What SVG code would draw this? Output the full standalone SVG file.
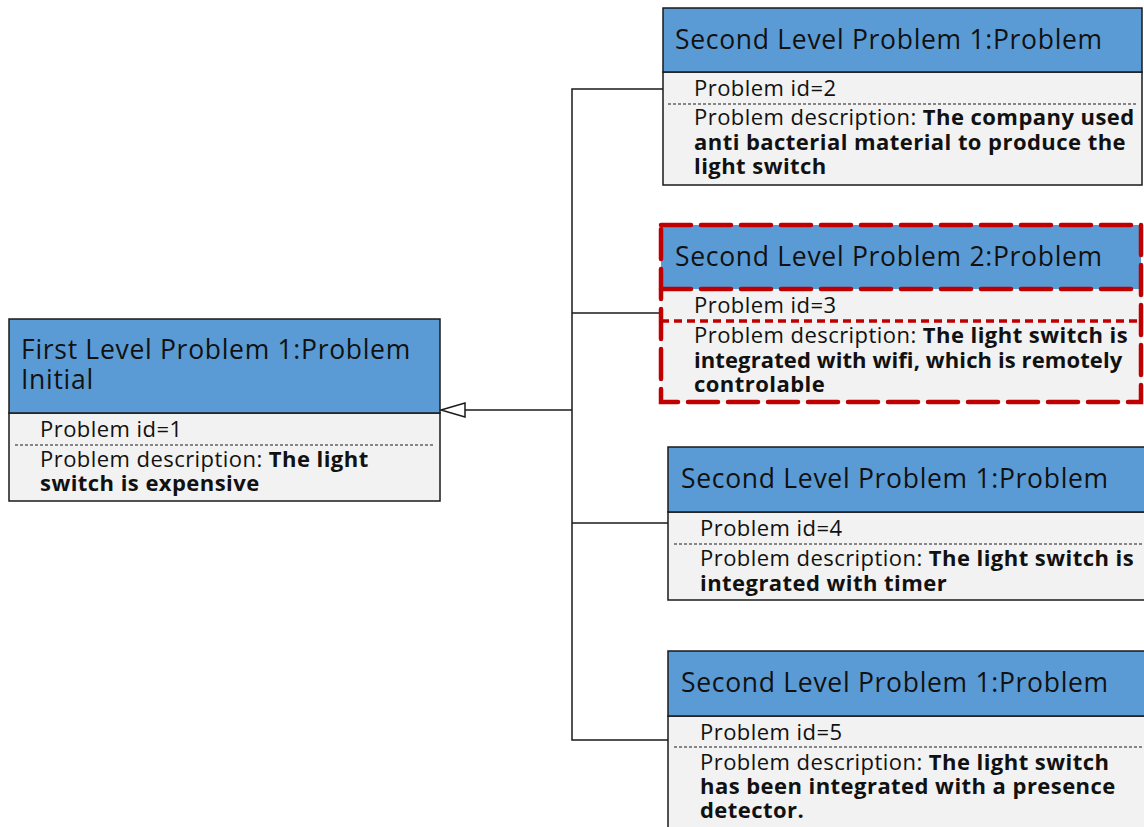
<svg xmlns="http://www.w3.org/2000/svg" width="1144" height="827" viewBox="0 0 1144 827">
<style>
.hdr{fill:#5B9BD5;stroke:#1a1a1a;stroke-width:1.5}
.body{fill:#F2F2F2;stroke:#1a1a1a;stroke-width:1.5}
.sep{stroke:#1a1a1a;stroke-width:1;stroke-dasharray:3 2;fill:none}
.title{font-family:"Open Sans","Liberation Sans",sans-serif;font-size:26.5px;letter-spacing:0.7px;fill:#111}
.txt{font-family:"Open Sans","Liberation Sans",sans-serif;font-size:22px;letter-spacing:0.45px;fill:#111}
.b{font-weight:bold}
.bt{font-weight:bold;letter-spacing:0.1px}
.conn{stroke:#1a1a1a;stroke-width:1.5;fill:none}
.red{stroke:#C00000;stroke-width:4.5;fill:none;stroke-dasharray:30 10;stroke-linecap:round}
.red2{stroke:#C00000;stroke-width:3.5;fill:none;stroke-dasharray:8 5}
</style>
<rect width="1144" height="827" fill="#ffffff"/>

<g id="connectors">
  <polyline class="conn" points="668,89 572,89 572,740 668,740"/>
  <line class="conn" x1="572" y1="313" x2="661" y2="313"/>
  <line class="conn" x1="572" y1="523" x2="668" y2="523"/>
  <line class="conn" x1="572" y1="410" x2="465" y2="410"/>
  <polygon points="441,410 465,403 465,417" fill="#ffffff" stroke="#1a1a1a" stroke-width="1.5"/>
</g>

<g id="first-level-problem-1">
  <rect class="body" x="9" y="413" width="431" height="88"/>
  <rect class="hdr" x="9" y="319" width="431" height="94"/>
  <text class="title" x="21" y="359">First Level Problem 1:Problem<tspan x="21" dy="30">Initial</tspan></text>
  <text class="txt" x="40" y="437">Problem id=1</text>
  <line class="sep" x1="15" y1="445" x2="433" y2="445"/>
  <text class="txt" x="40" y="467">Problem description: <tspan class="b">The light</tspan><tspan class="b" x="40" dy="24">switch is expensive</tspan></text>
</g>

<g id="second-level-problem-id2">
  <rect class="body" x="663" y="72" width="479" height="113"/>
  <rect class="hdr" x="663" y="8" width="479" height="64"/>
  <text class="title" x="675" y="49">Second Level Problem 1:Problem</text>
  <text class="txt" x="694" y="96">Problem id=2</text>
  <line class="sep" x1="668" y1="104" x2="1137" y2="104"/>
  <text class="txt" x="694" y="125">Problem description: <tspan class="b">The company used</tspan><tspan class="b" x="694" dy="24.5">anti bacterial material to produce the</tspan><tspan class="b" x="694" dy="24.5">light switch</tspan></text>
</g>

<g id="second-level-problem-id3">
  <rect x="661" y="289" width="480" height="113" fill="#F2F2F2"/>
  <rect x="661" y="225" width="480" height="64" fill="#5B9BD5"/>
  <text class="title" x="675" y="266">Second Level Problem 2:Problem</text>
  <text class="txt" x="694" y="313">Problem id=3</text>
  <text class="txt" x="694" y="343">Problem description: <tspan class="b">The light switch is</tspan><tspan class="bt" x="694" dy="24.5">integrated with wifi, which is remotely</tspan><tspan class="b" x="694" dy="24.5">controlable</tspan></text>
  <rect class="red" x="661" y="225" width="480" height="177"/>
  <line class="red" x1="661" y1="289" x2="1141" y2="289"/>
  <line class="red2" x1="661" y1="321" x2="1141" y2="321"/>
</g>

<g id="second-level-problem-id4">
  <rect class="body" x="668" y="512" width="480" height="88"/>
  <rect class="hdr" x="668" y="447" width="480" height="65"/>
  <text class="title" x="681" y="488">Second Level Problem 1:Problem</text>
  <text class="txt" x="700" y="536">Problem id=4</text>
  <line class="sep" x1="674" y1="544" x2="1144" y2="544"/>
  <text class="txt" x="700" y="566">Problem description: <tspan class="b">The light switch is</tspan><tspan class="b" x="700" dy="24.5">integrated with timer</tspan></text>
</g>

<g id="second-level-problem-id5">
  <rect class="body" x="668" y="716" width="480" height="120"/>
  <rect class="hdr" x="668" y="651" width="480" height="65"/>
  <text class="title" x="681" y="692">Second Level Problem 1:Problem</text>
  <text class="txt" x="700" y="740">Problem id=5</text>
  <line class="sep" x1="674" y1="747" x2="1144" y2="747"/>
  <text class="txt" x="700" y="770">Problem description: <tspan class="b">The light switch</tspan><tspan class="b" x="700" dy="24">has been integrated with a presence</tspan><tspan class="b" x="700" dy="24">detector.</tspan></text>
</g>
</svg>
